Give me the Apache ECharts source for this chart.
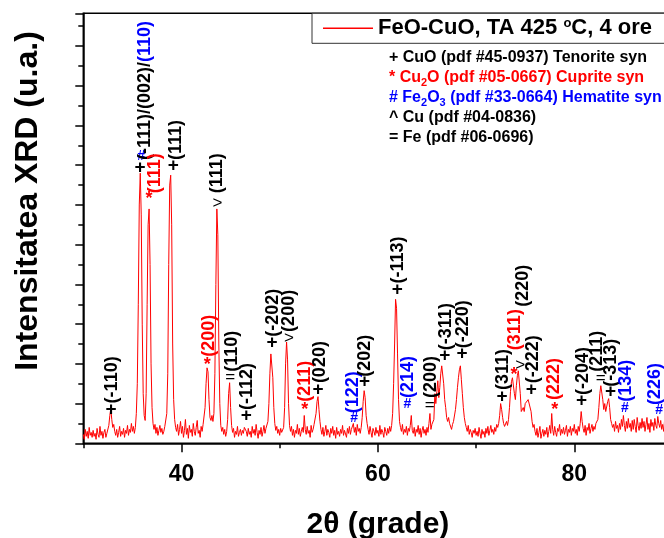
<!DOCTYPE html>
<html><head><meta charset="utf-8">
<script src="https://cdn.jsdelivr.net/npm/echarts@6/dist/echarts.min.js"></script>
<style>html,body{margin:0;padding:0;background:#fff}#c{width:664px;height:538px}</style>
</head><body><div id="c"></div>
<script>
// ---- data ----
const thetaStart = 30;
const thetaStep = 0.1;
const intensity = [
45,20,70,35,60,25,80,40,55,30,
65,35,50,20,75,45,30,85,40,60,
25,55,70,30,50,60,90,140,175,120,
80,95,60,40,70,30,55,85,35,60,
45,75,30,65,50,90,40,70,55,100,
60,85,50,80,150,300,700,1200,1360,1150,
600,250,140,115,250,700,1100,1180,900,400,
180,100,70,95,50,80,40,65,90,55,
75,45,60,85,90,150,350,900,1300,1350,
1100,500,220,120,80,60,95,40,70,110,
50,85,30,65,120,45,75,25,90,55,
70,35,100,60,40,80,115,50,65,30,
85,60,95,100,180,300,380,360,220,130,
115,140,110,150,350,800,1180,1050,500,200,
90,60,80,45,70,35,60,120,250,305,
180,90,55,75,30,60,45,85,35,55,
70,40,65,50,80,90,60,35,75,45,
60,30,85,50,70,40,95,55,25,65,
45,80,35,60,90,50,75,70,110,200,
350,450,460,330,180,100,65,85,50,70,
40,75,55,60,80,180,400,510,420,200,
90,60,85,40,70,30,65,50,95,45,
75,35,60,80,55,140,70,45,85,50,
65,30,90,55,70,95,90,150,210,235,
170,110,70,45,80,35,60,90,40,70,
55,30,75,50,85,40,65,25,80,45,
60,35,70,50,90,40,65,55,30,75,
50,85,45,70,60,100,55,80,40,95,
60,75,50,80,130,210,265,230,140,100,
70,45,85,55,30,75,60,40,80,50,
65,35,90,45,70,55,30,80,60,40,
75,50,85,60,90,150,300,500,725,680,
450,220,110,80,60,95,45,70,55,85,
40,75,60,90,140,65,50,80,35,70,
55,90,45,75,30,65,85,50,70,40,
80,55,100,150,70,95,100,120,250,200,
260,315,230,280,350,390,400,300,220,180,
130,110,130,100,90,70,95,110,120,170,
220,280,330,370,390,320,250,180,130,100,
80,60,90,45,70,55,30,65,50,75,
40,60,35,80,50,25,70,45,60,30,
75,50,85,40,65,90,55,70,45,80,
60,95,80,100,140,200,170,130,100,85,
80,110,90,120,180,260,310,330,325,250,
220,290,340,365,360,250,160,150,180,160,
200,210,190,220,230,220,160,110,80,95,
60,40,75,30,55,85,25,50,70,35,
65,45,80,30,60,90,50,150,70,40,
85,55,35,75,60,95,40,70,50,80,
45,65,90,35,70,55,85,40,75,60,
95,50,70,40,85,60,100,160,110,75,
55,90,40,80,65,100,50,75,95,60,
85,70,100,90,120,180,250,290,280,220,
170,200,160,170,210,225,180,120,100,80,
95,60,110,75,90,55,100,70,120,85,
140,90,60,110,75,125,80,100,60,115,
70,120,85,55,130,90,65,105,75,125,
80,110,60,95,130,70,100,55,120,85,
105,65,125,90,75,135,100,80,115,70,
95,60,120,85,110,70,100,90,75,105,
80
];
const xMajorTicks = [40, 60, 80];
const xMinorTicks = [30, 50, 70, 90];
const seriesName = 'FeO-CuO, TA 425 \u00B0C, 4 ore';
// phase markers: [2theta, intensity, glyph, colour]
const markers = [
[32.82,168,'+','k'],[35.79,1388,'+','k'],[35.88,1445,'#','b'],[36.69,1246,'*','r'],
[39.17,1395,'+','k'],[43.65,1215,'>','k'],[42.63,410,'*','r'],[44.97,335,'=','k'],
[46.6,137,'+','k'],[49.22,506,'+','k'],[50.95,533,'>','k'],[52.55,184,'*','r'],
[53.9,268,'+','k'],[57.57,126,'#','b'],[58.65,310,'+','k'],[61.98,771,'+','k'],
[63.0,198,'#','b'],[65.27,198,'=','k'],[66.8,439,'+','k'],[68.56,449,'+','k'],
[72.64,234,'+','k'],[73.86,360,'*','r'],[74.5,399,'>','k'],[75.62,272,'+','k'],
[78.0,184,'*','r'],[80.75,214,'+','k'],[82.69,332,'=','k'],[83.7,260,'+','k'],
[85.16,176,'#','b'],[88.65,168,'#','b']
];
// Miller indices: [2theta, intensity at text start, text, colour]
const hklLabels = [
[32.95,201,'(-110)','k'],[36.27,1426,'{k|(-111)/(002)/}{b|(110)}','k'],[37.35,1259,'(111)','r'],
[39.41,1426,'(111)','k'],[43.65,1259,'(111)','k'],[42.77,436,'(200)','r'],[45.17,360,'(110)','k'],
[46.67,168,'(-112)','k'],[49.32,536,'(-202)','k'],[50.95,561,'(200)','k'],[52.55,209,'(211)','r'],
[54.07,303,'(020)','k'],[57.46,151,'(122)','b'],[58.72,335,'(202)','k'],[62.05,805,'(-113)','k'],
[63.07,228,'(214)','b'],[65.38,228,'(200)','k'],[66.97,469,'(-311)','k'],[68.67,478,'(-220)','k'],
[72.74,268,'(311)','k'],[73.95,469,'(311)','r'],[74.75,687,'(220)','k'],[75.79,302,'(-222)','k'],
[77.93,218,'(222)','r'],[80.85,243,'(-204)','k'],[82.34,360,'(211)','k'],[83.79,285,'(-313)','k'],
[85.27,209,'(134)','b'],[88.22,193,'(226)','b']
];
const phaseLegend = [
['+ CuO (pdf #45-0937) Tenorite syn','k'],
['* Cu{sub|2}O (pdf #05-0667) Cuprite syn','r'],
['# Fe{sub|2}O{sub|3} (pdf #33-0664) Hematite syn','b'],
['^ Cu (pdf #04-0836)','k'],
['= Fe (pdf #06-0696)','k']
];

// ---- chart ----
const FONT = "'Liberation Sans', Arial, sans-serif";
const COLORS = {k:'#000000', r:'#ff0000', b:'#0000ff'};
const GLYPH = {
  '+':{size:19,dy:0,w:'bold'}, '#':{size:14,dy:0,w:'bold'}, '*':{size:18,dy:3,w:'bold'},
  '>':{size:17,dy:1,w:'normal'}, '=':{size:17,dy:1,w:'normal'}
};
const axisLS = {color:'#000', width:1.5};

const lineData = intensity.map((v,i)=>[+(thetaStart + i*thetaStep).toFixed(2), v]);

const graphics = [{
  type:'text', x:28, y:201, rotation:Math.PI/2,
  style:{text:'Intensitatea XRD (u.a.)', font:"bold 32px "+FONT, fill:'#000', align:'center', verticalAlign:'middle'}
}];
phaseLegend.forEach((p,i)=>{
  graphics.push({
    type:'text', x:389, y:58 + i*20,
    style:{text:p[0], font:"bold 16px "+FONT, fill:COLORS[p[1]], verticalAlign:'middle', lineHeight:20,
      rich:{sub:{font:"bold 11px "+FONT, fill:COLORS[p[1]], verticalAlign:'bottom', lineHeight:10}}}
  });
});

const chart = echarts.init(document.getElementById('c'));
chart.setOption({
  animation:false,
  backgroundColor:'#fff',
  grid:{left:83.3, top:13.3, width:589.2, height:430, show:true, borderColor:'#000', borderWidth:1.5,
        containLabel:false, outerBoundsMode:'none'},
  xAxis:[{
    type:'value', min:30, max:90, interval:10, position:'bottom',
    axisLine:{show:true, onZero:false, lineStyle:axisLS},
    axisTick:{show:true, customValues:xMajorTicks, length:9, lineStyle:axisLS},
    axisLabel:{customValues:xMajorTicks, fontSize:23, fontWeight:'bold', color:'#000', fontFamily:FONT, margin:20},
    splitLine:{show:false},
    name:'2\u03B8 (grade)', nameLocation:'middle', nameGap:66,
    nameTextStyle:{fontSize:30, fontWeight:'bold', color:'#000', fontFamily:FONT}
  },{
    type:'value', min:30, max:90, position:'bottom',
    axisLine:{show:false}, axisLabel:{show:false}, splitLine:{show:false},
    axisTick:{show:true, customValues:xMinorTicks, length:5, lineStyle:axisLS}
  }],
  yAxis:{
    type:'value', min:0, max:2165, interval:200,
    axisLine:{show:true, lineStyle:axisLS},
    axisTick:{show:true, length:8, lineStyle:axisLS},
    minorTick:{show:true, splitNumber:2, length:5, lineStyle:axisLS},
    axisLabel:{show:false}, splitLine:{show:false}
  },
  legend:{
    left:312, top:13.3, padding:[4,30,4,11], itemWidth:50, itemHeight:1.5, icon:'rect',
    borderColor:'#333', borderWidth:1, backgroundColor:'#fff',
    data:[seriesName],
    formatter:()=>'{a|FeO-CuO, TA 425 }{s|o}{a|C, 4 ore}',
    textStyle:{rich:{
      a:{fontSize:22, fontWeight:'bold', fontFamily:FONT, color:'#000'},
      s:{fontSize:13, fontWeight:'bold', fontFamily:FONT, color:'#000', verticalAlign:'top'}
    }}
  },
  series:[{
    name:seriesName, type:'line', data:lineData, symbol:'none', showSymbol:false,
    lineStyle:{color:'#ff0000', width:1}, itemStyle:{color:'#ff0000'}, z:2
  },{
    type:'custom', data:markers.map(m=>[m[0],m[1]]), z:5, silent:true, clip:false,
    renderItem:(params, api)=>{
      const m = markers[params.dataIndex];
      const g = GLYPH[m[2]];
      const p = api.coord([api.value(0), api.value(1)]);
      return {type:'text', x:p[0], y:p[1] + g.dy,
        style:{text:m[2], fill:COLORS[m[3]], font:g.w+' '+g.size+'px '+FONT, align:'center', verticalAlign:'middle'}};
    }
  },{
    type:'custom', data:hklLabels.map(h=>[h[0],h[1]]), z:5, silent:true, clip:false,
    renderItem:(params, api)=>{
      const h = hklLabels[params.dataIndex];
      const p = api.coord([api.value(0), api.value(1)]);
      return {type:'text', x:p[0], y:p[1], rotation:Math.PI/2,
        style:{text:h[2], fill:COLORS[h[3]], font:'bold 18px '+FONT, align:'left', verticalAlign:'middle',
          rich:{k:{fill:'#000', font:'bold 18px '+FONT}, b:{fill:'#0000ff', font:'bold 18px '+FONT}}}};
    }
  }],
  graphic:graphics
});
</script>
</body></html>
